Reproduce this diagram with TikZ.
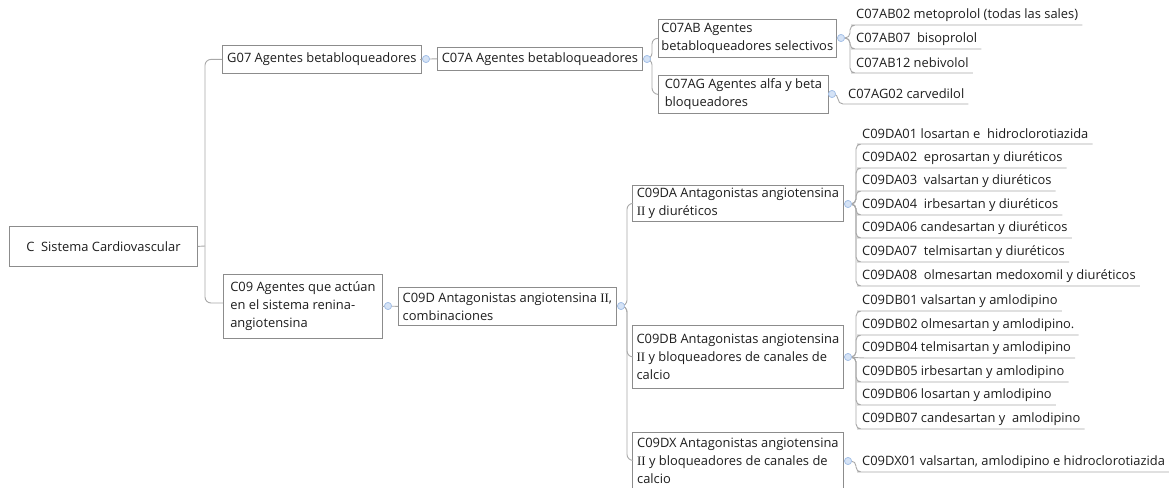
\documentclass[tikz,border=0pt]{standalone}
\usepackage{fontspec}
\setmainfont{Open Sans}
\newfontfamily\romII{Liberation Serif}
\definecolor{boxline}{HTML}{8C8C8C}
\definecolor{connc}{HTML}{A8A8A8}
\definecolor{dotfill}{HTML}{D5E3F6}
\definecolor{dotline}{HTML}{A7C2E8}
\definecolor{txt}{HTML}{1E1E1E}
\newcommand{\mfnt}{\fontsize{12.9}{18}\selectfont}
\begin{document}
\begin{tikzpicture}[x=1pt,y=-1pt,
  box/.style={draw=boxline, line width=0.8pt, fill=white, font=\mfnt, text=txt,
    inner xsep=3pt, inner ysep=0pt, align=left, anchor=north west},
  leaf/.style={anchor=south west, inner xsep=0pt, inner ysep=0pt, minimum height=20pt,
    font=\mfnt, text=txt},
  dotn/.style={circle, draw=dotline, fill=dotfill, inner sep=0pt, minimum size=7pt, line width=0.7pt},
  conn/.style={draw=connc, line width=0.9pt, rounded corners=6pt},
  lconn/.style={draw=connc, line width=0.9pt, rounded corners=5pt}
]
\useasboundingbox (0,0) rectangle (1169,487);

% ---------- boxes ----------
\node[box, align=center, minimum width=188pt, minimum height=40pt] (root) at (9,226) {C\ \ Sistema Cardiovascular};
\node[box, minimum width=199pt, minimum height=28pt] (g07) at (222,45) {G07 Agentes betabloqueadores};
\node[box, minimum width=205pt, minimum height=23pt] (c07a) at (437,47) {C07A Agentes betabloqueadores};
\node[box, minimum width=177pt, minimum height=38pt] (c07ab) at (658,19) {C07AB Agentes\\betabloqueadores selectivos};
\node[box, minimum width=170pt, minimum height=38pt] (c07ag) at (658,75) {C07AG Agentes alfa y beta\\bloqueadores};
\node[box, minimum width=159pt, minimum height=64pt] (c09) at (223,274) {C09 Agentes que actúan\\en el sistema renina-\\angiotensina};
\node[box, minimum width=218pt, minimum height=38pt] (c09d) at (398,287) {C09D Antagonistas angiotensina {\romII II},\\combinaciones};
\node[box, minimum width=211pt, minimum height=36pt] (c09da) at (632,185) {C09DA Antagonistas angiotensina\\{\romII II} y diuréticos};
\node[box, minimum width=211pt, minimum height=63pt] (c09db) at (632,325) {C09DB Antagonistas angiotensina\\{\romII II} y bloqueadores de canales de\\calcio};
\node[box, minimum width=211pt, minimum height=56pt] (c09dx) at (632,432) {C09DX Antagonistas angiotensina\\{\romII II} y bloqueadores de canales de\\calcio};

% ---------- leaves ----------
\node[leaf] (ab02) at (856,25) {C07AB02 metoprolol (todas las sales)};
\node[leaf] (ab07) at (856,49) {C07AB07\ \ bisoprolol};
\node[leaf] (ab12) at (856,73) {C07AB12 nebivolol};
\node[leaf] (ag02) at (848,104) {C07AG02 carvedilol};

\node[leaf] (da01) at (862,144) {C09DA01 losartan e\ \ hidroclorotiazida};
\node[leaf] (da02) at (862,168) {C09DA02\ \ eprosartan y diuréticos};
\node[leaf] (da03) at (862,191) {C09DA03\ \ valsartan y diuréticos};
\node[leaf] (da04) at (862,215) {C09DA04\ \ irbesartan y diuréticos};
\node[leaf] (da06) at (862,238) {C09DA06 candesartan y diuréticos};
\node[leaf] (da07) at (862,262) {C09DA07\ \ telmisartan y diuréticos};
\node[leaf] (da08) at (862,286) {C09DA08\ \ olmesartan medoxomil y diuréticos};

\node[leaf] (db01) at (862,311) {C09DB01 valsartan y amlodipino};
\node[leaf] (db02) at (862,335) {C09DB02 olmesartan y amlodipino.};
\node[leaf] (db04) at (862,358) {C09DB04 telmisartan y amlodipino};
\node[leaf] (db05) at (862,382) {C09DB05 irbesartan y amlodipino};
\node[leaf] (db06) at (862,405) {C09DB06 losartan y amlodipino};
\node[leaf] (db07) at (862,429) {C09DB07 candesartan y\ \ amlodipino};

\node[leaf] (dx01) at (862,472) {C09DX01 valsartan, amlodipino e hidroclorotiazida};

% ---------- dots ----------
\node[dotn] (dg07) at (426,59) {};
\node[dotn] (dc07a) at (647,59) {};
\node[dotn] (dc07ab) at (841,38) {};
\node[dotn] (dc07ag) at (832,94) {};
\node[dotn] (dc09) at (388,306) {};
\node[dotn] (dc09d) at (621,306) {};
\node[dotn] (dc09da) at (848,204) {};
\node[dotn] (dc09db) at (848,357) {};
\node[dotn] (dc09dx) at (848,461) {};

\coordinate (trunk) at (205,246);
\coordinate (c09in) at (223,303);

% ---------- connectors ----------
\draw[conn] (root.east) -- (trunk);
\draw[conn] (trunk) |- (g07.west);
\draw[conn] (trunk) |- (c09in);

\draw[conn] (g07.east) -- (dg07.center) -- (c07a.west);
\draw[conn] (c07a.east) -- (dc07a.center);
\draw[conn] (dc07a.center) -- (652,59) -- (652,38) -- (c07ab.west);
\draw[conn] (dc07a.center) -- (652,59) -- (652,94) -- (c07ag.west);

\draw[conn] (c07ab.east) -- (dc07ab.center);
\draw[conn] (c07ag.east) -- (dc07ag.center);
\foreach \l in {ab02,ab07,ab12}
  \draw[lconn] (dc07ab.center) -- (850,38) |- (\l.south west) -- ([xshift=4pt]\l.south east);
\draw[lconn] (dc07ag.center) -- (838,94) |- (ag02.south west) -- ([xshift=4pt]ag02.south east);

\draw[conn] (c09.east) -- (dc09.center) -- (c09d.west);
\draw[conn] (c09d.east) -- (dc09d.center);
\foreach \c in {c09da,c09db,c09dx}
  \draw[conn] (dc09d.center) -- (627,306) |- (\c.west);

\draw[conn] (c09da.east) -- (dc09da.center);
\draw[conn] (c09db.east) -- (dc09db.center);
\draw[conn] (c09dx.east) -- (dc09dx.center);
\foreach \l in {da01,da02,da03,da04,da06,da07,da08}
  \draw[lconn] (dc09da.center) -- (856,204) |- (\l.south west) -- ([xshift=4pt]\l.south east);
\foreach \l in {db01,db02,db05,db06,db07}
  \draw[lconn] (dc09db.center) -- (856,357) |- (\l.south west) -- ([xshift=4pt]\l.south east);
\draw[lconn] (dc09db.center) -- (db04.south west) -- ([xshift=4pt]db04.south east);
\draw[lconn] (dc09dx.center) -- (856,461) |- (dx01.south west) -- ([xshift=4pt]dx01.south east);

% dots on top of the connectors
\foreach \d in {dg07,dc07a,dc07ab,dc07ag,dc09,dc09d,dc09da,dc09db,dc09dx}
  \fill[dotfill, draw=dotline, line width=0.7pt] (\d) circle (3.5pt);
\end{tikzpicture}
\end{document}
